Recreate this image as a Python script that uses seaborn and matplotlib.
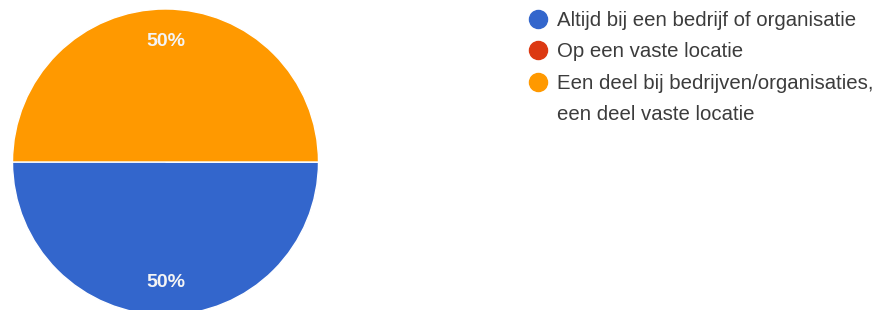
import matplotlib
matplotlib.use("Agg")
import matplotlib.pyplot as plt
from matplotlib.lines import Line2D
import seaborn as sns

labels = [
    "Altijd bij een bedrijf of organisatie",
    "Op een vaste locatie",
    "Een deel bij bedrijven/organisaties,",
]
label_extra = "een deel vaste locatie"  # second line of the last entry
shares = [50, 0, 50]
colors = ["#3366CC", "#DC3912", "#FF9900"]

sns.set_theme(style="white")
plt.rcParams["font.family"] = ["Liberation Sans", "DejaVu Sans"]

W, H = 878, 310
fig = plt.figure(figsize=(W / 100, H / 100), dpi=100)
fig.patch.set_facecolor("white")

# pie: centre (165.5, 162) px from top, radius 153 px
cx, cy, r = 165.5, 162, 153
ax = fig.add_axes([(cx - r) / W, (H - cy - r) / H, 2 * r / W, 2 * r / H])

wedges, texts, autotexts = ax.pie(
    shares,
    colors=colors,
    startangle=180,
    counterclock=True,
    autopct=lambda p: f"{p:.0f}%" if p > 0 else "",
    pctdistance=0.79,
    wedgeprops=dict(edgecolor="white", linewidth=1),
    textprops=dict(color="#f4f4f4", fontsize=14, fontweight="bold"),
)
ax.set_xlim(-1, 1)
ax.set_ylim(-1, 1)
ax.set_aspect("equal")
ax.axis("off")

# google-forms style legend: dot aligned with the first line of each label
handles = [
    Line2D([], [], marker="o", linestyle="", markersize=13,
           markerfacecolor=c, markeredgecolor=c)
    for c in colors
]
handles.append(Line2D([], [], linestyle="", marker=""))
leg = fig.legend(
    handles, labels + [label_extra],
    loc="upper left",
    bbox_to_anchor=(519 / W, 1 - 3 / H),
    frameon=False,
    fontsize=14.7,
    handletextpad=0.35,
    handlelength=1.1,
    labelspacing=0.6,
    borderaxespad=0,
)
for t in leg.get_texts():
    t.set_color("#3c3c3c")

fig.savefig("out.png", dpi=100)
